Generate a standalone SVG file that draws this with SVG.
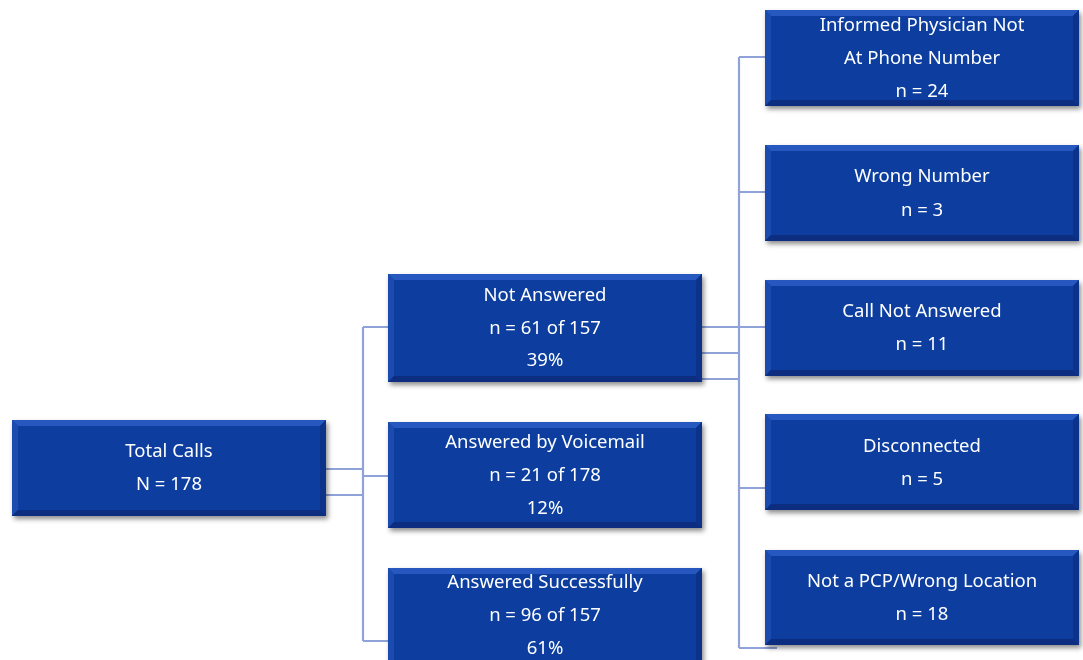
<svg xmlns="http://www.w3.org/2000/svg" width="1083" height="660" viewBox="0 0 1083 660">
<defs>
<filter id="sh" x="-5%" y="-10%" width="115%" height="130%">
<feDropShadow dx="2" dy="3" stdDeviation="2.5" flood-color="#000" flood-opacity="0.45"/>
</filter>
</defs>
<style>
.base{fill:#0a3e9f}
.bt{fill:#2659bf}
.bl{fill:#1a4cb0}
.bb{fill:#072d80}
.br{fill:#08318a}
text{font-family:"Noto Sans","Open Sans","Liberation Sans",sans-serif;font-size:18.5px;fill:#ffffff;text-anchor:middle}
.c{fill:none;stroke:#8fa3d9;stroke-width:2.2}
</style>
<rect width="1083" height="660" fill="#ffffff"/>
<g id="connectors">
<path class="c" d="M326 469H363M326 495H363M363 327V641M363 327H388M363 476H388M363 641H388"/>
<path class="c" d="M702 327H765M702 353H739M702 379H739M739 57V648M739 57H765M739 192H765M739 488H765M739 648H777"/>
</g>
<g id="total" filter="url(#sh)">
<rect class="base" x="12" y="420" width="314" height="96"/>
<polygon class="bt" points="12,420 326,420 320,426 18,426"/>
<polygon class="bl" points="12,420 18,426 18,510 12,516"/>
<polygon class="bb" points="12,516 18,510 320,510 326,516"/>
<polygon class="br" points="326,420 326,516 320,510 320,426"/>
<text x="169" y="457">Total Calls</text>
<text x="169" y="490">N = 178</text>
</g>
<g id="notanswered" filter="url(#sh)">
<rect class="base" x="388" y="274" width="314" height="108"/>
<polygon class="bt" points="388,274 702,274 696,280 394,280"/>
<polygon class="bl" points="388,274 394,280 394,376 388,382"/>
<polygon class="bb" points="388,382 394,376 696,376 702,382"/>
<polygon class="br" points="702,274 702,382 696,376 696,280"/>
<text x="545" y="301">Not Answered</text>
<text x="545" y="334">n = 61 of 157</text>
<text x="545" y="366">39%</text>
</g>
<g id="voicemail" filter="url(#sh)">
<rect class="base" x="388" y="422" width="314" height="106"/>
<polygon class="bt" points="388,422 702,422 696,428 394,428"/>
<polygon class="bl" points="388,422 394,428 394,522 388,528"/>
<polygon class="bb" points="388,528 394,522 696,522 702,528"/>
<polygon class="br" points="702,422 702,528 696,522 696,428"/>
<text x="545" y="448">Answered by Voicemail</text>
<text x="545" y="481">n = 21 of 178</text>
<text x="545" y="514">12%</text>
</g>
<g id="successfully" filter="url(#sh)">
<rect class="base" x="388" y="568" width="314" height="106"/>
<polygon class="bt" points="388,568 702,568 696,574 394,574"/>
<polygon class="bl" points="388,568 394,574 394,668 388,674"/>
<polygon class="br" points="702,568 702,674 696,668 696,574"/>
<text x="545" y="588">Answered Successfully</text>
<text x="545" y="621">n = 96 of 157</text>
<text x="545" y="654">61%</text>
</g>
<g id="informed" filter="url(#sh)">
<rect class="base" x="765" y="10" width="314" height="96"/>
<polygon class="bt" points="765,10 1079,10 1073,16 771,16"/>
<polygon class="bl" points="765,10 771,16 771,100 765,106"/>
<polygon class="bb" points="765,106 771,100 1073,100 1079,106"/>
<polygon class="br" points="1079,10 1079,106 1073,100 1073,16"/>
<text x="922" y="31">Informed Physician Not</text>
<text x="922" y="64">At Phone Number</text>
<text x="922" y="97">n = 24</text>
</g>
<g id="wrongnumber" filter="url(#sh)">
<rect class="base" x="765" y="145" width="314" height="96"/>
<polygon class="bt" points="765,145 1079,145 1073,151 771,151"/>
<polygon class="bl" points="765,145 771,151 771,235 765,241"/>
<polygon class="bb" points="765,241 771,235 1073,235 1079,241"/>
<polygon class="br" points="1079,145 1079,241 1073,235 1073,151"/>
<text x="922" y="182">Wrong Number</text>
<text x="922" y="216">n = 3</text>
</g>
<g id="callnotanswered" filter="url(#sh)">
<rect class="base" x="765" y="280" width="314" height="96"/>
<polygon class="bt" points="765,280 1079,280 1073,286 771,286"/>
<polygon class="bl" points="765,280 771,286 771,370 765,376"/>
<polygon class="bb" points="765,376 771,370 1073,370 1079,376"/>
<polygon class="br" points="1079,280 1079,376 1073,370 1073,286"/>
<text x="922" y="317">Call Not Answered</text>
<text x="922" y="350">n = 11</text>
</g>
<g id="disconnected" filter="url(#sh)">
<rect class="base" x="765" y="414" width="314" height="96"/>
<polygon class="bt" points="765,414 1079,414 1073,420 771,420"/>
<polygon class="bl" points="765,414 771,420 771,504 765,510"/>
<polygon class="bb" points="765,510 771,504 1073,504 1079,510"/>
<polygon class="br" points="1079,414 1079,510 1073,504 1073,420"/>
<text x="922" y="452">Disconnected</text>
<text x="922" y="485">n = 5</text>
</g>
<g id="notpcp" filter="url(#sh)">
<rect class="base" x="765" y="550" width="314" height="95"/>
<polygon class="bt" points="765,550 1079,550 1073,556 771,556"/>
<polygon class="bl" points="765,550 771,556 771,639 765,645"/>
<polygon class="bb" points="765,645 771,639 1073,639 1079,645"/>
<polygon class="br" points="1079,550 1079,645 1073,639 1073,556"/>
<text x="922" y="587">Not a PCP/Wrong Location</text>
<text x="922" y="620">n = 18</text>
</g>
</svg>
